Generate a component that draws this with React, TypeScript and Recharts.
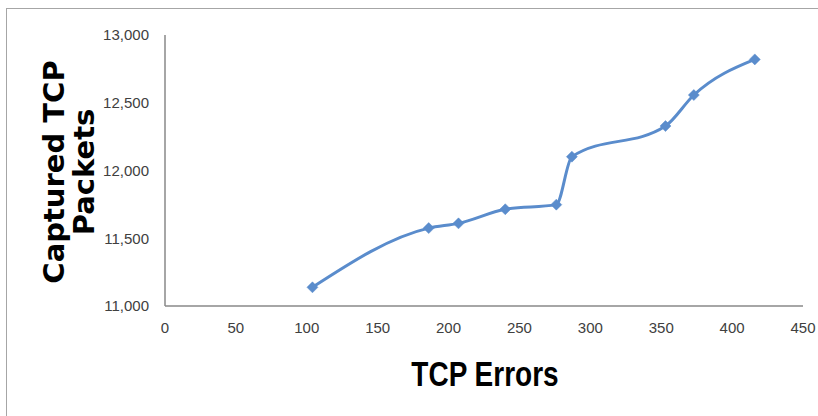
import React from 'react';
import { LineChart, Line, XAxis, YAxis } from 'recharts';

// TCP errors (x) vs captured TCP packets (y)
const tcpErrors = [104, 186, 207, 240, 276, 287, 353, 373, 416];
const capturedPackets = [11138, 11575, 11610, 11714, 11748, 12102, 12328, 12557, 12820];

const xTicks = [0, 50, 100, 150, 200, 250, 300, 350, 400, 450];
const yTicks = [11000, 11500, 12000, 12500, 13000];

const data = tcpErrors.map((x, i) => ({ x, y: capturedPackets[i] }));

const LINE_COLOR = '#5a8ccc';
const AXIS_COLOR = '#888888';
const tickStyle = { fontFamily: '"Liberation Sans", Arial, sans-serif', fontSize: 15, fill: '#404040' };

function Diamond(props: any) {
  const { cx, cy, index } = props;
  if (cx == null || cy == null) return null;
  const r = 5.5;
  return (
    <path
      key={`d-${index}`}
      d={`M${cx},${cy - r} L${cx + r},${cy} L${cx},${cy + r} L${cx - r},${cy} Z`}
      fill={LINE_COLOR}
      stroke={LINE_COLOR}
      strokeWidth={0.5}
    />
  );
}

export default function App() {
  return (
    <div style={{ position: 'fixed', left: 0, top: 0, width: 818, height: 416, overflow: 'hidden', background: '#fff' }}>
      {/* outer frame, cut at the right and bottom edges */}
      <div style={{ position: 'absolute', left: 6, top: 8, width: 840, height: 440, border: '1px solid #a6a6a6' }} />
      <div style={{ position: 'absolute', left: 0, top: 0 }}>
        <LineChart width={818} height={416} data={data} margin={{ top: 35, right: 15, bottom: 80, left: 100 }}>
          <XAxis
            dataKey="x"
            type="number"
            domain={[0, 450]}
            ticks={xTicks}
            tickLine={false}
            axisLine={{ stroke: AXIS_COLOR, strokeWidth: 1.5 }}
            tick={tickStyle}
            tickMargin={10}
            height={30}
            interval={0}
          />
          <YAxis
            dataKey="y"
            type="number"
            domain={[11000, 13000]}
            ticks={yTicks}
            tickLine={false}
            axisLine={{ stroke: AXIS_COLOR, strokeWidth: 1.5 }}
            tick={tickStyle}
            tickMargin={10}
            width={65}
            interval={0}
            tickFormatter={(v: number) => v.toLocaleString('en-US')}
          />
          <Line
            type="monotone"
            dataKey="y"
            stroke={LINE_COLOR}
            strokeWidth={3}
            dot={Diamond}
            activeDot={false}
            isAnimationActive={false}
          />
        </LineChart>
      </div>
      <div
        style={{
          position: 'absolute',
          left: 69,
          top: 172,
          transform: 'translate(-50%, -50%) rotate(-90deg)',
          fontFamily: '"DejaVu Sans", Arial, sans-serif',
          fontWeight: 900,
          fontSize: 29,
          lineHeight: '30px',
          textAlign: 'center',
          whiteSpace: 'nowrap',
          color: '#000',
        }}
      >
        Captured TCP
        <br />
        Packets
      </div>
      <div
        style={{
          position: 'absolute',
          left: 485,
          top: 374,
          transform: 'translate(-50%, -50%) scaleX(0.8)',
          fontFamily: '"Liberation Sans", Arial, sans-serif',
          fontWeight: 700,
          fontSize: 35,
          whiteSpace: 'nowrap',
          color: '#000',
        }}
      >
        TCP Errors
      </div>
    </div>
  );
}
